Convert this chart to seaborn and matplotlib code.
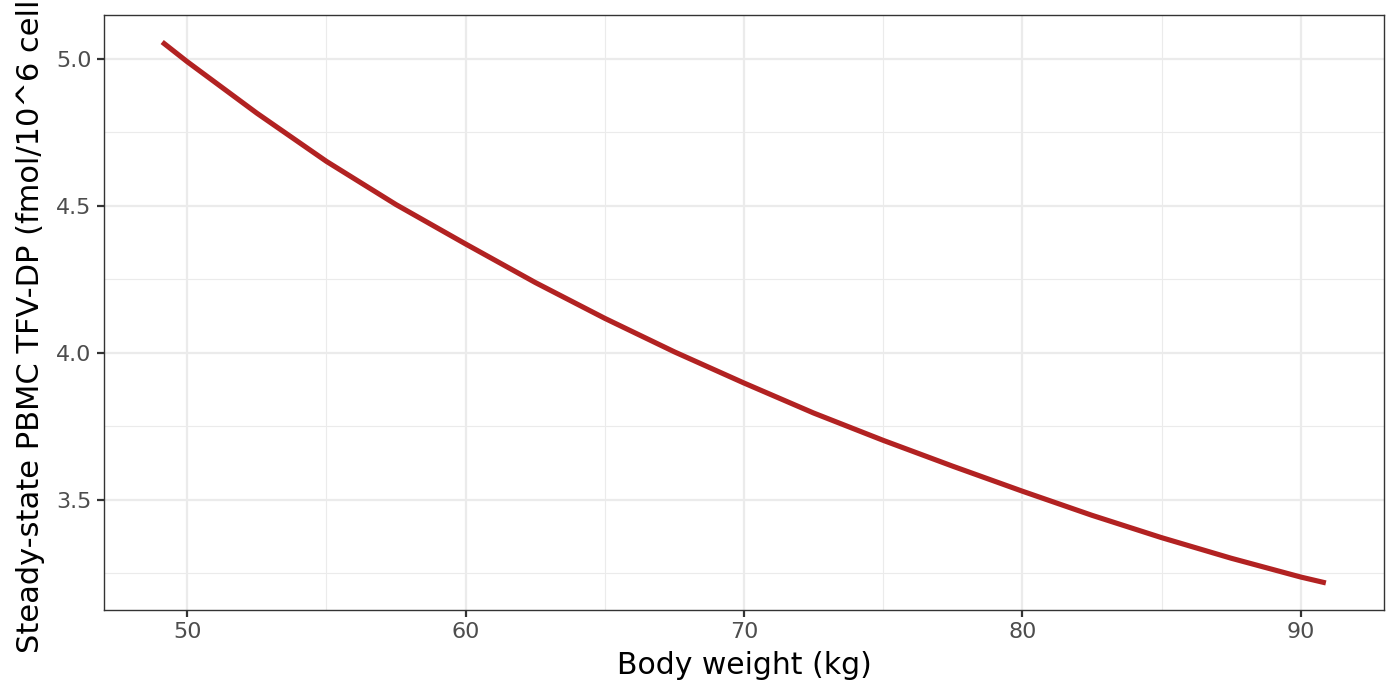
import numpy as np
import pandas as pd
import matplotlib
matplotlib.use("Agg")
import matplotlib.pyplot as plt
import seaborn as sns
from matplotlib.ticker import MultipleLocator, FormatStrFormatter

# values
weight_kg = [49.1, 50.0, 52.5, 55.0, 57.5, 60.0, 62.5, 65.0, 67.5, 70.0,
             72.5, 75.0, 77.5, 80.0, 82.5, 85.0, 87.5, 90.0, 90.9]
tfv_dp = [5.057, 4.990, 4.815, 4.651, 4.504, 4.370, 4.239, 4.117, 4.003, 3.897,
          3.795, 3.702, 3.614, 3.529, 3.447, 3.371, 3.301, 3.237, 3.217]

df = pd.DataFrame({"weight": weight_kg, "conc": tfv_dp})

sns.set_theme(style="white")
plt.rcParams["font.family"] = ["DejaVu Sans"]

fig = plt.figure(figsize=(14, 7), dpi=100)
ax = fig.add_axes([0.0743, 0.1286, 0.9143, 0.85])

sns.lineplot(data=df, x="weight", y="conc", ax=ax, color="#B22222",
             linewidth=3.7, solid_capstyle="butt", solid_joinstyle="round")

# ggplot-ish margins (5% expansion)
xr = max(weight_kg) - min(weight_kg)
yr = max(tfv_dp) - min(tfv_dp)
ax.set_xlim(min(weight_kg) - 0.05 * xr, max(weight_kg) + 0.05 * xr)
ax.set_ylim(min(tfv_dp) - 0.05 * yr, max(tfv_dp) + 0.05 * yr)

ax.xaxis.set_major_locator(MultipleLocator(10))
ax.xaxis.set_minor_locator(MultipleLocator(5))
ax.yaxis.set_major_locator(MultipleLocator(0.5))
ax.yaxis.set_minor_locator(MultipleLocator(0.25))
ax.yaxis.set_major_formatter(FormatStrFormatter("%.1f"))

ax.grid(which="major", color="#EBEBEB", linewidth=1.6)
ax.grid(which="minor", color="#EBEBEB", linewidth=0.8)
ax.set_axisbelow(True)

for s in ax.spines.values():
    s.set_color("#333333")
    s.set_linewidth(1.0)

ax.tick_params(which="major", length=5, width=1.6, color="#333333",
               labelsize=16, labelcolor="#4D4D4D", pad=4, left=True, bottom=True)
ax.tick_params(which="minor", length=0)

ax.set_xlabel("Body weight (kg)", fontsize=21.5, color="black", labelpad=6)
ax.set_ylabel("Steady-state PBMC TFV-DP (fmol/10^6 cells)", fontsize=22,
              color="black")
ax.yaxis.set_label_coords(-0.046, 0.5)

fig.savefig("out.png", dpi=100)
